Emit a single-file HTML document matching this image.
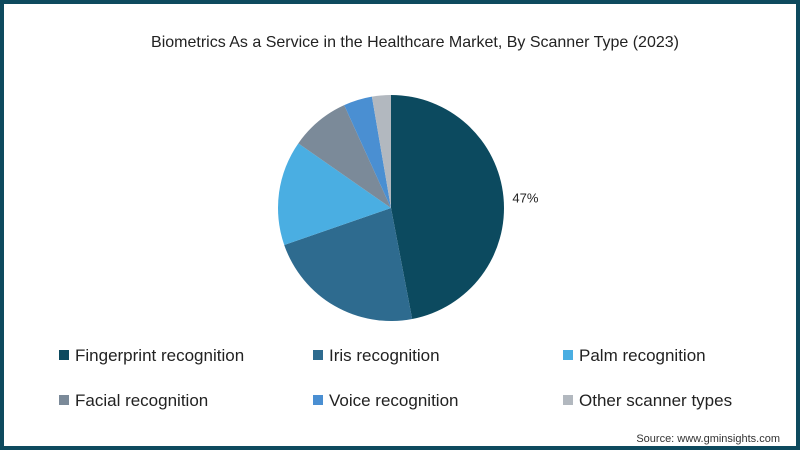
<!DOCTYPE html>
<html><head><meta charset="utf-8"><style>
body{margin:0;width:800px;height:450px;overflow:hidden;background:#fff;font-family:"Liberation Sans",sans-serif}
#frame{position:absolute;left:0;top:0;width:792px;height:442px;border:4px solid #0e4a5e;background:#fff}
</style></head><body>
<div id="frame"></div>
<svg id="chart" width="800" height="450" style="position:absolute;left:0;top:0">
<text x="415" y="47" text-anchor="middle" font-size="16" fill="#222">Biometrics As a Service in the Healthcare Market, By Scanner Type (2023)</text>
<g id="slices"></g><g id="legend"></g>
<text x="780" y="442" text-anchor="end" font-size="11" fill="#333">Source: www.gminsights.com</text>
</svg>
<script>
const categories=["Fingerprint recognition","Iris recognition","Palm recognition","Facial recognition","Voice recognition","Other scanner types"];
const values=[47,22.7,15,8.5,4.1,2.7];
const colors=["#0c4a5f","#2e6b8f","#4aaee2","#7b8a99","#4a8fd2","#b2b8bf"];
const labels=["47%","","","","",""];
const ns="http://www.w3.org/2000/svg";
const cx=391,cy=208,r=113;
const total=values.reduce((a,b)=>a+b,0);
const g=document.getElementById('slices');
let acc=0;
function pt(frac,rad){const a=frac*2*Math.PI;return [cx+rad*Math.sin(a),cy-rad*Math.cos(a)];}
values.forEach((v,i)=>{
 const f0=acc/total,f1=(acc+v)/total;acc+=v;
 const [x0,y0]=pt(f0,r),[x1,y1]=pt(f1,r);
 const p=document.createElementNS(ns,'path');
 p.setAttribute('d',`M${cx},${cy}L${x0},${y0}A${r},${r} 0 ${f1-f0>0.5?1:0} 1 ${x1},${y1}Z`);
 p.setAttribute('fill',colors[i]);
 
 
 g.appendChild(p);
 if(labels[i]){const [lx,ly]=pt((f0+f1)/2,r+20);
  const t=document.createElementNS(ns,'text');t.setAttribute('x',lx+2);t.setAttribute('y',ly+7);
  t.setAttribute('font-size','13');t.setAttribute('fill','#222');t.setAttribute('text-anchor','middle');
  t.textContent=labels[i];
  
  
  g.appendChild(t);}
});
const lg=document.getElementById('legend');
const lx=[59,313,563],ly=[355,400];
categories.forEach((c,i)=>{
 const x=lx[i%3],y=ly[Math.floor(i/3)];
 const e=document.createElementNS(ns,'g');
 
 
 const s=document.createElementNS(ns,'rect');s.setAttribute('x',x);s.setAttribute('y',y-5);s.setAttribute('width',10);s.setAttribute('height',10);s.setAttribute('fill',colors[i]);
 const t=document.createElementNS(ns,'text');t.setAttribute('x',x+16);t.setAttribute('y',y+6);t.setAttribute('font-size','17');t.setAttribute('fill','#222');t.textContent=c;
 e.appendChild(s);e.appendChild(t);lg.appendChild(e);
});
</script>
</body></html>
